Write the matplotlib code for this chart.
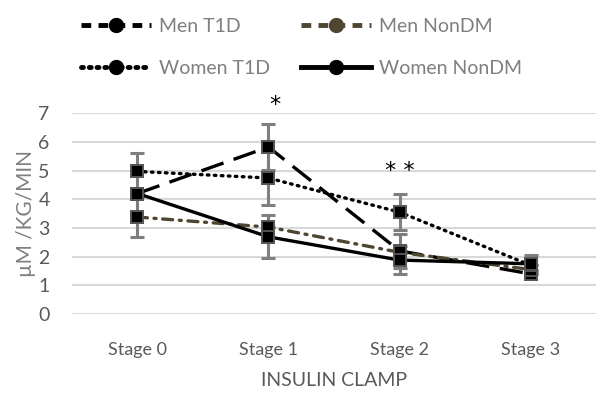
import matplotlib.pyplot as plt
from matplotlib.lines import Line2D

plt.rcParams['font.family'] = ['Lato', 'DejaVu Sans']

stages = ["Stage 0", "Stage 1", "Stage 2", "Stage 3"]
men_t1d = [4.2, 5.82, 2.2, 1.4]
men_t1d_err = [0.0, 0.8, 0.6, 0.0]
men_nondm = [3.38, 3.03, 2.15, 1.55]
men_nondm_err = [0.7, 0.0, 0.0, 0.0]
women_t1d = [4.97, 4.74, 3.55, 1.7]
women_t1d_err = [0.65, 0.94, 0.62, 0.0]
women_nondm = [4.2, 2.69, 1.88, 1.75]
women_nondm_err = [0.0, 0.75, 0.5, 0.3]

fig = plt.figure(figsize=(6.04, 3.93), dpi=100)
ax = fig.add_axes([0.119, 0.201, 0.868, 0.511])

x = [i + 0.5 for i in range(len(stages))]
gray = "#7f7f7f"
olive = "#4e4631"

series = [
    (men_t1d, men_t1d_err, "black", (0, (7, 3.2)), "butt"),
    (men_nondm, men_nondm_err, olive, (0, (3, 2, 0.6, 2)), "round"),
    (women_t1d, women_t1d_err, "black", (0, (0.5, 1.6)), "round"),
    (women_nondm, women_nondm_err, "black", "-", "butt"),
]

for vals, err, col, ls, cap in series:
    ax.errorbar(x, vals, yerr=err, fmt="none", ecolor=gray, elinewidth=2.2,
                capsize=5, capthick=2.2, zorder=2)
    ax.plot(x, vals, color=col, linestyle=ls, linewidth=2.4,
            dash_capstyle=cap, zorder=3)
    ax.plot(x, vals, linestyle="none", marker="s", markersize=9,
            markerfacecolor="black", markeredgecolor="#555555",
            markeredgewidth=1.4, zorder=4)

ax.set_xlim(0, 4)
ax.set_ylim(0, 7)
ax.set_yticks(range(8))
ax.set_xticks(x)
ax.set_xticklabels(stages)
ax.grid(axis="y", color="#d9d9d9", linewidth=1.5)
ax.set_axisbelow(True)
for s in ax.spines.values():
    s.set_visible(False)
ax.tick_params(length=0, labelsize=13, colors="#595959", pad=20)
ax.tick_params(axis="y", labelsize=14, pad=16)
ax.set_xlabel("INSULIN CLAMP", fontsize=14, color="#595959", labelpad=10)
ax.set_ylabel("µM /KG/MIN", fontsize=15, color="#7f7f7f", labelpad=2)

ax.text(x[1] + 0.05, 6.95, "*", ha="center", va="bottom", fontsize=16,
        family="DejaVu Sans")
ax.text(x[2], 5.0, "* *", ha="center", va="center", fontsize=16,
        family="DejaVu Sans")

handles = [
    Line2D([], [], color="black", linestyle=(0, (2, 1.5)), linewidth=3.5,
           marker="o", markersize=10),
    Line2D([], [], color="black", linestyle=(0, (0.4, 1.2)), linewidth=3.5,
           marker="o", markersize=10, dash_capstyle="round"),
    Line2D([], [], color=olive, linestyle=(0, (2, 1.5)), linewidth=3.5,
           marker="o", markersize=10),
    Line2D([], [], color="black", linestyle="-", linewidth=3.5,
           marker="o", markersize=10),
]
labels = ["Men T1D", "Women T1D", "Men NonDM", "Women NonDM"]
leg = fig.legend(handles, labels, loc="upper left", bbox_to_anchor=(0.105, 1.0),
                 ncol=2, frameon=False, fontsize=14, handlelength=3.6,
                 columnspacing=1.6, labelspacing=1.3, handletextpad=0.4)
for t in leg.get_texts():
    t.set_color("#7f7f7f")

fig.savefig("out.png", dpi=100)
